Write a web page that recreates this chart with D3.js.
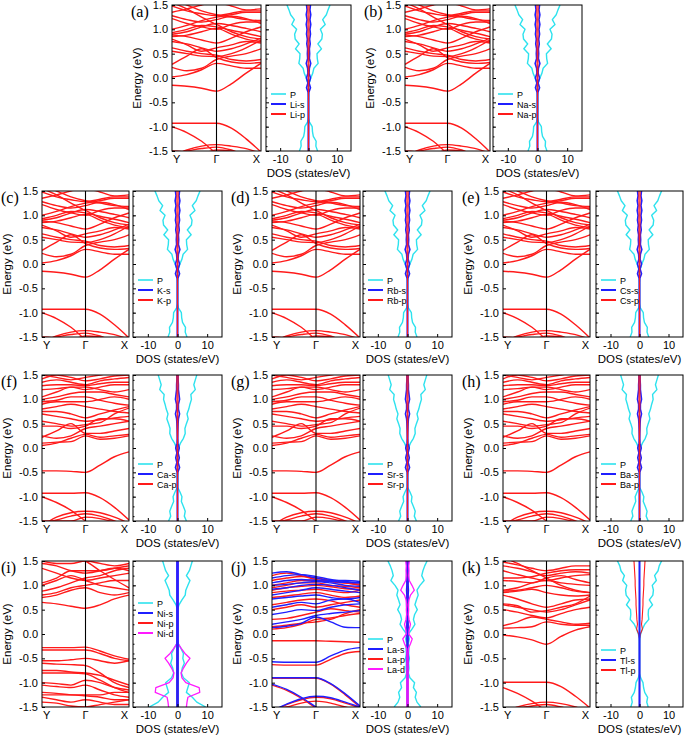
<!DOCTYPE html>
<html>
<head>
<meta charset="utf-8">
<script src="https://cdn.jsdelivr.net/npm/d3@7"></script>
<style>
  body { margin: 0; background: #fff; }
  svg { display: block; }
  .tick text { font-family: "Liberation Sans", Arial, sans-serif; font-size: 11px; }
  .axis path { display: none; }
  .axis line { stroke: #000; }
  .lbl { font-family: "Liberation Sans", Arial, sans-serif; font-size: 11px; }
  .plabel { font-family: "Liberation Serif", "Times New Roman", serif; font-size: 16px; }
</style>
</head>
<body>
<script>
// ---- data ----
var kPath = [0, 0.167, 0.333, 0.5, 0.667, 0.833, 1];
var kLabels = ['Y', 'Γ', 'X'];
var energyTicks = [-1.5, -1.0, -0.5, 0.0, 0.5, 1.0, 1.5];
var dosTicks = [-10, 0, 10];
var energyGrid = [-1.5, -1.4, -1.3, -1.2, -1.1, -1.0, -0.9, -0.8, -0.7, -0.6, -0.5, -0.4, -0.3, -0.2, -0.1,
                  0.0, 0.1, 0.2, 0.3, 0.4, 0.5, 0.6, 0.7, 0.8, 0.9, 1.0, 1.1, 1.2, 1.3, 1.4, 1.5];

var panelLabels = ['(a)', '(b)', '(c)', '(d)', '(e)', '(f)', '(g)', '(h)', '(i)', '(j)', '(k)'];
var elements = ['Li', 'Na', 'K', 'Rb', 'Cs', 'Ca', 'Sr', 'Ba', 'Ni', 'La', 'Tl'];
var panelGroup = ['alkali', 'alkali', 'alkali', 'alkali', 'alkali', 'earth', 'earth', 'earth', 'ni', 'la', 'tl'];

// bands (energy at each kPath point)
var alkaliBands = [
  [-0.93, -0.93, -0.93, -0.93, -1.03, -1.25, -1.52],
  [-1.0, -1.12, -1.3, -1.55, -1.7, -1.8, -1.9],
  [-1.6, -1.48, -1.4, -1.37, -1.4, -1.45, -1.55],
  [-1.55, -1.5, -1.45, -1.42, -1.48, -1.6, -1.7],
  [-1.5, -1.52, -1.55, -1.48, -1.5, -1.58, -1.65],
  [-0.15, -0.17, -0.21, -0.27, -0.12, 0.1, 0.3],
  [0.02, 0.07, 0.17, 0.3, 0.25, 0.2, 0.2],
  [0.22, 0.15, 0.2, 0.38, 0.45, 0.5, 0.6],
  [0.28, 0.45, 0.6, 0.42, 0.33, 0.3, 0.32],
  [0.55, 0.5, 0.45, 0.44, 0.5, 0.62, 0.78],
  [0.62, 0.55, 0.5, 0.47, 0.38, 0.35, 0.38],
  [0.75, 0.7, 0.62, 0.55, 0.6, 0.7, 0.82],
  [0.8, 0.68, 0.55, 0.62, 0.68, 0.75, 0.72],
  [0.85, 0.88, 0.95, 1.02, 0.9, 0.8, 0.75],
  [0.88, 0.85, 0.78, 0.72, 0.82, 0.95, 1.05],
  [0.9, 0.95, 1.05, 1.12, 1.08, 1.02, 0.95],
  [0.93, 1.0, 1.08, 1.05, 0.98, 0.92, 0.85],
  [1.0, 1.08, 1.18, 1.25, 1.3, 1.35, 1.35],
  [1.22, 1.12, 1.05, 1.0, 1.1, 1.15, 1.15],
  [1.28, 1.2, 1.15, 1.2, 1.27, 1.22, 1.12],
  [1.35, 1.42, 1.5, 1.55, 1.48, 1.4, 1.42],
  [1.48, 1.38, 1.32, 1.28, 1.33, 1.38, 1.38],
  [1.55, 1.42, 1.25, 1.1, 0.95, 0.85, 0.8],
  [1.6, 1.5, 1.38, 1.3, 1.25, 1.2, 1.18]
];
var earthBands = [
  [-0.47, -0.47, -0.48, -0.5, -0.35, -0.18, -0.08],
  [-0.93, -0.93, -0.93, -0.92, -1.02, -1.22, -1.48],
  [-1.0, -1.12, -1.28, -1.5, -1.7, -1.8, -1.9],
  [-1.6, -1.42, -1.33, -1.3, -1.33, -1.42, -1.55],
  [-1.55, -1.48, -1.4, -1.35, -1.4, -1.5, -1.6],
  [-1.5, -1.5, -1.5, -1.42, -1.45, -1.52, -1.6],
  [0.05, 0.1, 0.2, 0.28, 0.22, 0.25, 0.28],
  [0.1, 0.12, 0.13, 0.25, 0.18, 0.2, 0.25],
  [0.22, 0.35, 0.5, 0.3, 0.3, 0.35, 0.4],
  [0.25, 0.2, 0.25, 0.4, 0.45, 0.5, 0.55],
  [0.45, 0.45, 0.4, 0.45, 0.6, 0.6, 0.55],
  [0.55, 0.5, 0.45, 0.48, 0.52, 0.7, 0.82],
  [0.7, 0.65, 0.6, 0.55, 0.58, 0.62, 0.65],
  [0.75, 0.75, 0.7, 0.62, 0.7, 0.78, 0.85],
  [0.8, 0.85, 0.9, 0.85, 0.8, 0.75, 0.72],
  [0.9, 0.95, 0.95, 0.95, 1.0, 1.05, 1.0],
  [0.95, 0.98, 1.05, 1.05, 0.98, 0.92, 0.88],
  [1.0, 1.05, 1.12, 1.15, 1.15, 1.1, 1.05],
  [1.05, 1.15, 1.25, 1.25, 1.2, 1.15, 1.2],
  [1.2, 1.22, 1.25, 1.2, 1.25, 1.3, 1.3],
  [1.28, 1.3, 1.3, 1.28, 1.32, 1.35, 1.35],
  [1.35, 1.4, 1.35, 1.3, 1.38, 1.42, 1.45],
  [1.42, 1.5, 1.45, 1.38, 1.42, 1.48, 1.5],
  [1.5, 1.45, 1.4, 1.45, 1.5, 1.55, 1.55]
];
var niBands = [
  [-0.28, -0.28, -0.28, -0.27, -0.35, -0.45, -0.52],
  [-0.33, -0.33, -0.33, -0.33, -0.4, -0.5, -0.55],
  [-0.55, -0.55, -0.53, -0.5, -0.55, -0.6, -0.55],
  [-0.6, -0.62, -0.63, -0.65, -0.8, -1.0, -1.1],
  [-0.75, -0.75, -0.78, -0.8, -0.85, -0.95, -1.05],
  [-0.8, -0.8, -0.8, -0.82, -0.95, -1.1, -1.2],
  [-1.0, -1.02, -1.05, -0.95, -1.0, -1.1, -1.15],
  [-1.05, -1.08, -1.1, -1.05, -1.15, -1.25, -1.3],
  [-1.2, -1.22, -1.25, -1.25, -1.25, -1.2, -1.2],
  [-1.25, -1.25, -1.25, -1.27, -1.3, -1.35, -1.35],
  [-1.3, -1.35, -1.4, -1.35, -1.4, -1.45, -1.45],
  [-1.4, -1.42, -1.48, -1.5, -1.45, -1.4, -1.35],
  [0.65, 0.62, 0.57, 0.53, 0.6, 0.72, 0.8],
  [0.75, 0.8, 0.9, 0.95, 0.85, 0.8, 0.85],
  [0.8, 0.85, 0.95, 1.0, 1.05, 1.1, 1.1],
  [0.88, 0.95, 1.05, 1.15, 1.2, 1.3, 1.35],
  [1.0, 1.1, 1.2, 1.1, 1.0, 0.95, 0.9],
  [1.05, 1.15, 1.3, 1.3, 1.3, 1.35, 1.4],
  [1.35, 1.25, 1.15, 1.1, 1.15, 1.2, 1.25],
  [1.45, 1.4, 1.3, 1.25, 1.3, 1.35, 1.3],
  [1.5, 1.45, 1.45, 1.5, 1.45, 1.4, 1.45],
  [1.7, 1.65, 1.6, 1.5, 1.3, 1.12, 0.95]
];
var laBandsUp = [
  [-0.14, -0.14, -0.14, -0.14, -0.15, -0.16, -0.17],
  [-0.63, -0.64, -0.64, -0.64, -0.52, -0.4, -0.36],
  [-0.91, -0.91, -0.91, -0.91, -1.03, -1.25, -1.5],
  [-1.05, -1.16, -1.32, -1.52, -1.7, -1.8, -1.9],
  [-1.6, -1.45, -1.35, -1.3, -1.33, -1.42, -1.52],
  [-1.55, -1.5, -1.42, -1.38, -1.42, -1.5, -1.58],
  [0.1, 0.13, 0.2, 0.3, 0.33, 0.38, 0.42],
  [0.15, 0.18, 0.22, 0.25, 0.3, 0.42, 0.5],
  [0.3, 0.32, 0.38, 0.45, 0.52, 0.48, 0.45],
  [0.5, 0.55, 0.6, 0.55, 0.6, 0.65, 0.7],
  [0.6, 0.65, 0.7, 0.72, 0.68, 0.6, 0.55],
  [0.75, 0.78, 0.82, 0.85, 0.8, 0.75, 0.78],
  [0.85, 0.88, 0.9, 0.92, 0.88, 0.85, 0.9],
  [0.9, 0.95, 0.98, 1.0, 0.97, 0.93, 0.92],
  [0.95, 1.0, 1.05, 1.05, 1.0, 0.98, 0.95],
  [1.0, 1.05, 1.1, 1.1, 1.08, 1.05, 1.02],
  [1.1, 1.15, 1.18, 1.15, 1.1, 1.05, 1.0],
  [1.2, 1.25, 1.2, 1.12, 1.08, 1.05, 1.05]
];
var laBandsDown = [
  [-0.57, -0.58, -0.58, -0.58, -0.45, -0.33, -0.28],
  [-0.9, -0.9, -0.9, -0.9, -1.02, -1.23, -1.48],
  [-1.03, -1.14, -1.3, -1.5, -1.68, -1.8, -1.9],
  [-1.58, -1.44, -1.33, -1.28, -1.31, -1.4, -1.5],
  [0.13, 0.16, 0.22, 0.35, 0.25, 0.14, 0.13],
  [0.2, 0.25, 0.3, 0.38, 0.42, 0.45, 0.48],
  [0.4, 0.45, 0.5, 0.48, 0.55, 0.6, 0.62],
  [0.55, 0.6, 0.65, 0.62, 0.7, 0.72, 0.65],
  [0.72, 0.75, 0.78, 0.8, 0.75, 0.72, 0.75],
  [0.8, 0.85, 0.9, 0.95, 0.92, 0.88, 0.85],
  [0.92, 0.95, 1.0, 1.02, 1.0, 0.95, 0.9],
  [1.0, 1.02, 1.05, 1.08, 1.05, 1.0, 0.98],
  [1.05, 1.1, 1.12, 1.1, 1.08, 1.06, 1.05],
  [1.15, 1.2, 1.22, 1.18, 1.12, 1.08, 1.05],
  [1.25, 1.28, 1.22, 1.15, 1.1, 1.1, 1.08]
];
var tlBands = [
  [-0.99, -0.99, -0.99, -0.99, -1.08, -1.28, -1.52],
  [-1.1, -1.22, -1.38, -1.58, -1.75, -1.85, -1.9],
  [-1.6, -1.5, -1.43, -1.4, -1.43, -1.5, -1.6],
  [-1.55, -1.52, -1.48, -1.45, -1.5, -1.58, -1.65],
  [-0.02, -0.06, -0.12, -0.21, -0.05, 0.08, 0.15],
  [0.12, 0.13, 0.15, 0.25, 0.2, 0.18, 0.18],
  [0.17, 0.25, 0.35, 0.3, 0.25, 0.2, 0.22],
  [0.5, 0.45, 0.38, 0.33, 0.42, 0.5, 0.55],
  [0.6, 0.55, 0.5, 0.45, 0.5, 0.6, 0.7],
  [0.62, 0.58, 0.45, 0.48, 0.55, 0.62, 0.78],
  [0.8, 0.72, 0.62, 0.55, 0.62, 0.7, 0.72],
  [0.85, 0.88, 0.92, 0.85, 0.8, 0.78, 0.8],
  [0.88, 0.9, 0.95, 1.0, 0.95, 0.88, 0.85],
  [0.9, 0.95, 1.05, 1.1, 1.05, 1.02, 1.0],
  [1.1, 1.08, 1.05, 1.15, 1.2, 1.12, 1.05],
  [1.15, 1.15, 1.18, 1.25, 1.3, 1.32, 1.32],
  [1.3, 1.22, 1.15, 1.1, 1.15, 1.2, 1.22],
  [1.4, 1.35, 1.28, 1.2, 1.25, 1.28, 1.25],
  [1.48, 1.42, 1.35, 1.3, 1.35, 1.4, 1.4],
  [1.58, 1.45, 1.3, 1.15, 1.0, 0.9, 0.85]
];

// DOS (states/eV) on energyGrid, drawn mirrored about zero
var alkaliP = [3.2, 2.6, 2.7, 1.7, 1.4, 1.3, 0.3, 0, 0, 0, 0, 0, 0, 0.1, 0.3,
               0.8, 1.5, 1.9, 3.4, 3.1, 3.0, 4.6, 3.3, 4.7, 4.9, 4.2, 5.9, 5.0, 6.3, 6.9, 7.6];
var alkaliS = [0, 0, 0, 0, 0, 0, 0, 0, 0, 0, 0, 0, 0.1, 0.7, 0.2,
               0.7, 0.2, 0.3, 0.8, 0.3, 0.4, 0.3, 0.6, 0.4, 0.7, 0.5, 0.8, 0.5, 0.8, 0.5, 0.7];
var alkaliPp = [0, 0, 0, 0, 0, 0, 0, 0, 0, 0, 0, 0, 0, 0.1, 0.05,
                0.1, 0.1, 0.1, 0.15, 0.1, 0.1, 0.15, 0.15, 0.15, 0.2, 0.15, 0.2, 0.15, 0.2, 0.2, 0.2];
var earthP = [3.0, 2.3, 2.6, 2.0, 1.3, 1.5, 0.8, 0, 0, 0, 0, 0, 0, 0, 0,
              0.3, 1.0, 2.0, 2.6, 2.5, 3.0, 3.6, 3.2, 3.8, 4.2, 4.7, 4.5, 6.0, 5.5, 6.0, 6.5];
var earthS = [0, 0, 0, 0, 0, 0, 0, 0, 0, 0, 0.1, 0.7, 0.2, 0.6, 0.2,
              0.6, 0.15, 0.1, 0.1, 0.15, 0.2, 0.3, 0.7, 0.3, 0.3, 0.7, 0.5, 0.3, 0.3, 0.2, 0.2];
var earthPp = [0, 0, 0, 0, 0, 0, 0, 0, 0, 0, 0.05, 0.1, 0.05, 0.1, 0.05,
               0.1, 0.05, 0.05, 0.1, 0.1, 0.1, 0.1, 0.1, 0.1, 0.15, 0.15, 0.15, 0.15, 0.2, 0.2, 0.2];
var niP = [9.5, 6.5, 5.0, 3.0, 3.5, 4.0, 2.0, 1.3, 1.6, 2.3, 1.8, 2.0, 1.2, 0.3, 0,
           0, 0, 0, 0, 0, 0, 0.5, 1.5, 2.6, 2.8, 3.5, 4.2, 3.0, 4.0, 4.5, 5.0];
var niS = [0.2, 0.2, 0.2, 0.2, 0.2, 0.2, 0.2, 0.2, 0.2, 0.2, 0.2, 0.2, 0.2, 0.2, 0.2,
           0.2, 0.2, 0.2, 0.2, 0.2, 0.2, 0.2, 0.2, 0.2, 0.2, 0.2, 0.2, 0.2, 0.2, 0.2, 0.2];
var niPp = [0.1, 0.1, 0.1, 0.1, 0.1, 0.1, 0.1, 0.1, 0.1, 0.1, 0.1, 0.1, 0.1, 0, 0,
            0, 0, 0, 0, 0, 0, 0, 0, 0, 0, 0, 0, 0, 0, 0, 0];
var niD = [3.0, 3.2, 3.5, 7.5, 7.3, 2.8, 1.5, 1.2, 2.0, 3.0, 4.2, 2.5, 1.3, 0.2, 0,
           0, 0, 0, 0, 0, 0, 0, 0, 0, 0, 0, 0, 0, 0, 0, 0];
var laP = [4.5, 3.2, 2.6, 3.0, 2.0, 2.4, 0.8, 0.3, 0.5, 0.4, 0.6, 0.4, 0.5, 0.3, 0.6,
           0.3, 1.5, 2.5, 2.0, 2.4, 3.3, 2.5, 3.0, 3.6, 3.2, 4.2, 5.6, 4.8, 5.2, 5.8, 6.6];
var laS = [0.1, 0.1, 0.1, 0.1, 0.1, 0.1, 0.1, 0.1, 0.1, 0.2, 0.3, 0.2, 0.1, 0.1, 0.2,
           0.1, 0.2, 0.2, 0.1, 0.2, 0.2, 0.3, 0.2, 0.2, 0.3, 0.2, 0.2, 0.3, 0.2, 0.2, 0.3];
var laPp = [0.1, 0.1, 0.1, 0.1, 0.1, 0.1, 0.1, 0.1, 0.1, 0.1, 0.1, 0.1, 0.1, 0.1, 0.1,
            0.1, 0.1, 0.1, 0.1, 0.1, 0.1, 0.1, 0.1, 0.1, 0.1, 0.1, 0.1, 0.1, 0.1, 0.1, 0.1];
var laD = [0.2, 0.2, 0.2, 0.2, 0.2, 0.2, 0.2, 0.2, 0.2, 0.2, 0.2, 0.2, 0.3, 1.0, 1.6,
           0.4, 0.6, 1.0, 0.5, 0.3, 0.4, 0.3, 0.5, 1.0, 2.3, 1.5, 0.6, 0.4, 0.5, 0.4, 0.6];
var tlP = [3.0, 2.5, 2.8, 1.8, 1.4, 1.2, 0.4, 0, 0, 0, 0, 0, 0, 0, 0.1,
           0.4, 1.0, 1.8, 3.2, 3.0, 3.1, 4.5, 3.4, 4.6, 4.8, 4.4, 5.8, 5.2, 6.4, 6.8, 7.6];
var tlS = [0, 0, 0, 0, 0, 0, 0, 0, 0, 0, 0, 0, 0, 0, 0,
           0, 0, 0, 0, 0, 0, 0, 0, 0, 0, 0, 0, 0, 0, 0, 0];
var tlPp = [0, 0, 0, 0, 0, 0, 0, 0, 0, 0, 0, 0, 0, 0, 0,
            0.3, 1.0, 0.7, 0.9, 1.0, 1.1, 1.2, 1.2, 1.3, 1.4, 1.5, 1.5, 1.6, 1.7, 1.8, 1.9];

// ---- groups / styles ----
var colors = {P: '#2de2ee', s: '#1f1fff', p: '#ff1a1a', d: '#ff1aff'};
var widths = {P: 1.4, s: 1.6, p: 1.1, d: 1.3};
var groups = {
  alkali: {bands: [[alkaliBands, colors.p]], dos: {P: alkaliP, s: alkaliS, p: alkaliPp}, order: ['P', 's', 'p'], legend: ['P', 's', 'p']},
  earth:  {bands: [[earthBands, colors.p]], dos: {P: earthP, s: earthS, p: earthPp}, order: ['P', 's', 'p'], legend: ['P', 's', 'p']},
  ni:     {bands: [[niBands, colors.p]], dos: {P: niP, s: niS, p: niPp, d: niD}, order: ['P', 'p', 'd', 's'], legend: ['P', 's', 'p', 'd']},
  la:     {bands: [[laBandsUp, colors.p], [laBandsDown, colors.s]], dos: {P: laP, s: laS, p: laPp, d: laD}, order: ['P', 'p', 's', 'd'], legend: ['P', 's', 'p', 'd']},
  tl:     {bands: [[tlBands, colors.p]], dos: {P: tlP, s: tlS, p: tlPp}, order: ['P', 'p', 's'], legend: ['P', 's', 'p']}
};

// ---- layout ----
var plotH = 146;
var layout = [
  {bx: 172, bw: 89, dx: 266, dw: 85, top: 5, leg: 89},
  {bx: 405, bw: 85, dx: 493, dw: 89, top: 5, leg: 89},
  {bx: 42, bw: 87, dx: 133, dw: 89, top: 191, leg: 89},
  {bx: 272, bw: 88, dx: 363, dw: 89, top: 191, leg: 89},
  {bx: 503, bw: 87, dx: 596, dw: 87, top: 191, leg: 89},
  {bx: 42, bw: 87, dx: 133, dw: 89, top: 375, leg: 89},
  {bx: 272, bw: 88, dx: 363, dw: 89, top: 375, leg: 89},
  {bx: 503, bw: 87, dx: 596, dw: 87, top: 375, leg: 89},
  {bx: 42, bw: 87, dx: 133, dw: 89, top: 561, leg: 42},
  {bx: 272, bw: 88, dx: 363, dw: 89, top: 561, leg: 78},
  {bx: 503, bw: 87, dx: 596, dw: 87, top: 561, leg: 89}
];

var svg = d3.select('body').append('svg').attr('width', 685).attr('height', 737);
var fmt = function(v) { return d3.format('.1f')(v).replace('\u2212', '-'); };
var fmtInt = function(v) { return d3.format('d')(v).replace('\u2212', '-'); };

layout.forEach(function(L, i) {
  var grp = groups[panelGroup[i]];
  var el = elements[i];
  var y = d3.scaleLinear().domain([-1.5, 1.5]).range([L.top + plotH, L.top]);
  var xb = d3.scaleLinear().domain([0, 1]).range([L.bx, L.bx + L.bw]);
  var xd = d3.scaleLinear().domain([-15, 15]).range([L.dx, L.dx + L.dw]);
  var g = svg.append('g');

  // clip paths
  var cb = 'cb' + i, cd = 'cd' + i;
  svg.append('clipPath').attr('id', cb).append('rect')
     .attr('x', L.bx).attr('y', L.top).attr('width', L.bw).attr('height', plotH);
  svg.append('clipPath').attr('id', cd).append('rect')
     .attr('x', L.dx).attr('y', L.top).attr('width', L.dw).attr('height', plotH);

  // bands
  var bandLine = d3.line()
      .x(function(d, j) { return xb(kPath[j]); })
      .y(function(d) { return y(d); })
      .curve(d3.curveMonotoneX);
  var bg = g.append('g').attr('clip-path', 'url(#' + cb + ')');
  grp.bands.forEach(function(set) {
    bg.selectAll(null).data(set[0]).enter().append('path')
      .attr('d', bandLine)
      .attr('fill', 'none')
      .attr('stroke', set[1])
      .attr('stroke-width', 1.4);
  });
  g.append('line').attr('x1', xb(0.5)).attr('x2', xb(0.5))
   .attr('y1', L.top).attr('y2', L.top + plotH).attr('stroke', '#000').attr('stroke-width', 1.1);

  // DOS
  var dg = g.append('g').attr('clip-path', 'url(#' + cd + ')');
  grp.order.forEach(function(key) {
    var vals = grp.dos[key];
    [1, -1].forEach(function(sign) {
      var ln = d3.line()
        .x(function(d) { return xd(sign * d); })
        .y(function(d, j) { return y(energyGrid[j]); });
      dg.append('path').attr('d', ln(vals))
        .attr('fill', 'none').attr('stroke', colors[key])
        .attr('stroke-width', widths[key]).attr('stroke-linejoin', 'round');
    });
  });

  // frames
  [[L.bx, L.bw], [L.dx, L.dw]].forEach(function(f) {
    g.append('rect').attr('x', f[0]).attr('y', L.top).attr('width', f[1]).attr('height', plotH)
     .attr('fill', 'none').attr('stroke', '#000').attr('stroke-width', 1);
  });

  // y axis (band) with labels
  g.append('g').attr('class', 'axis').attr('transform', 'translate(' + L.bx + ',0)')
   .call(d3.axisLeft(y).tickValues(energyTicks).tickFormat(fmt).tickSizeInner(-3).tickSizeOuter(0).tickPadding(4));
  g.append('g').attr('class', 'axis').attr('transform', 'translate(' + L.dx + ',0)')
   .call(d3.axisLeft(y).tickValues(energyTicks).tickFormat('').tickSizeInner(-3).tickSizeOuter(0));
  g.append('g').attr('class', 'axis').attr('transform', 'translate(' + L.dx + ',0)')
   .call(d3.axisLeft(y).ticks(12).tickFormat('').tickSizeInner(-1.5).tickSizeOuter(0));
  // x axis (DOS)
  g.append('g').attr('class', 'axis').attr('transform', 'translate(0,' + (L.top + plotH) + ')')
   .call(d3.axisBottom(xd).tickValues(dosTicks).tickFormat(fmtInt).tickSizeInner(-3).tickSizeOuter(0).tickPadding(4));

  // k labels
  g.append('text').attr('class', 'lbl').attr('x', L.bx + 1).attr('y', L.top + plotH + 12).text(kLabels[0]);
  g.append('text').attr('class', 'lbl').attr('x', xb(0.5)).attr('y', L.top + plotH + 12)
   .attr('text-anchor', 'middle').text(kLabels[1]);
  g.append('text').attr('class', 'lbl').attr('x', L.bx + L.bw - 1).attr('y', L.top + plotH + 12)
   .attr('text-anchor', 'end').text(kLabels[2]);

  g.append('text').attr('class', 'lbl').attr('x', L.dx + L.dw / 2).attr('y', L.top + plotH + 26)
   .attr('text-anchor', 'middle').style('font-size', '11.5px').text('DOS (states/eV)');
  g.append('text').attr('class', 'lbl')
   .attr('transform', 'translate(' + (L.bx - 31) + ',' + (L.top + plotH / 2) + ') rotate(-90)')
   .attr('text-anchor', 'middle').style('font-size', '11.5px').text('Energy (eV)');
  g.append('text').attr('class', 'plabel').attr('x', L.bx - 41).attr('y', L.top + 12).text(panelLabels[i]);

  // legend
  var lt = L.top + L.leg;
  grp.legend.forEach(function(key, j) {
    var ly = lt + j * 10;
    g.append('line').attr('x1', L.dx + 5).attr('x2', L.dx + 20).attr('y1', ly).attr('y2', ly)
     .attr('stroke', colors[key]).attr('stroke-width', key === 'P' ? 1.6 : 2);
    g.append('text').attr('x', L.dx + 24).attr('y', ly + 3.5)
     .style('font-family', '"Liberation Sans", Arial, sans-serif').style('font-size', '9px')
     .text(key === 'P' ? 'P' : el + '-' + key);
  });
});
</script>
</body>
</html>
